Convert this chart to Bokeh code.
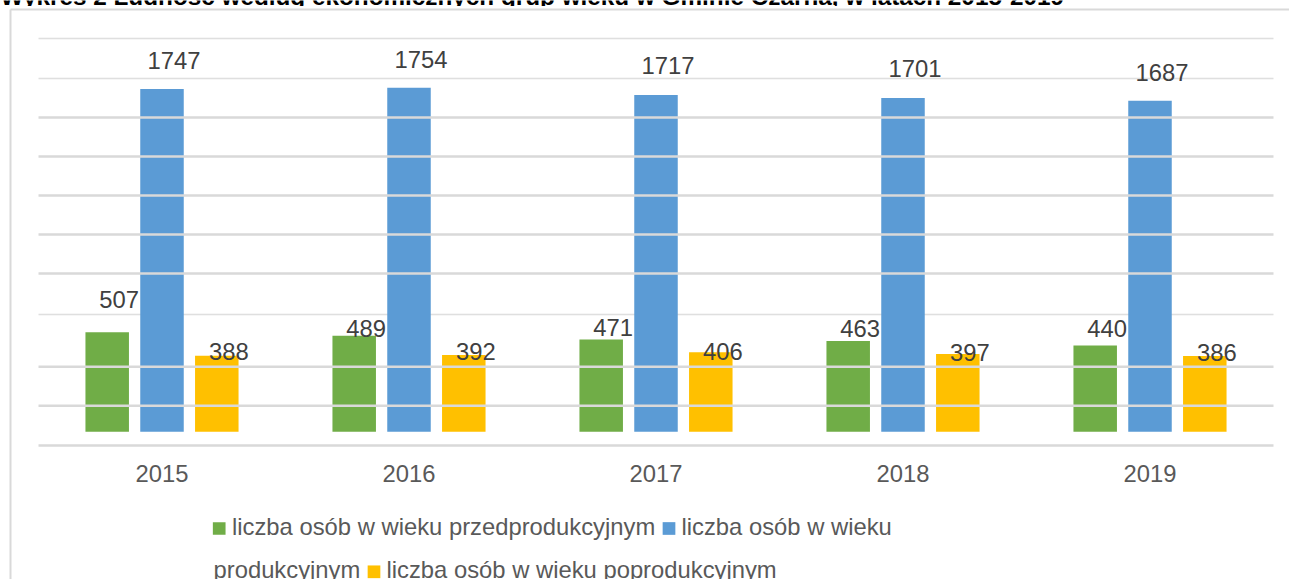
from bokeh.plotting import figure
from bokeh.models import ColumnDataSource, Range1d
from bokeh.transform import dodge
from bokeh.core.properties import value
from bokeh.embed import file_html
from bokeh.resources import INLINE

# ---------------- data ----------------
years = ["2015", "2016", "2017", "2018", "2019"]
pre_prod = [507, 489, 471, 463, 440]          # przedprodukcyjny
prod = [1747, 1754, 1717, 1701, 1687]         # produkcyjny
post_prod = [388, 392, 406, 397, 386]         # poprodukcyjny
series_names = [
    "liczba osób w wieku przedprodukcyjnym",
    "liczba osób w wieku produkcyjnym",
    "liczba osób w wieku poprodukcyjnym",
]
title_text = "Wykres 2 Ludność według ekonomicznych grup wieku w Gminie Czarna, w latach 2015-2019"

# gridline levels (as drawn in the source image)
grid_dark = [1602, 1403, 1204, 1006, 807, 332, 133, -70]
grid_light = [2005, 1801, 598]

# label vertical placement (pixels, relative to bar top; text middle)
dy_pre = [-31.5, -6.4, -10.2, -11.5, -16.0]
dy_prod = [-27.0, -26.5, -28.0, -28.5, -27.0]
dy_post = [-3.2, -1.9, 0.9, -0.4, -2.1]

# ---------------- geometry / styles ----------------
W, H = 1289, 579
LEFT_PX, CAT_PX = 38.0, 247.0     # plot area left edge, category width
BASE_PX, PX_PER_UNIT = 431.3, 0.1962
TSHIFT = 9.7                      # renderer's baseline correction for text (px)

def X(px):
    return (px - LEFT_PX) / CAT_PX

def Y(py):
    return (BASE_PX - py) / PX_PER_UNIT

def YT(py):  # baseline position for a text
    return Y(py - TSHIFT)

FONT = value("Liberation Sans")
FS = "23.8px"
C_GREEN, C_BLUE, C_YELLOW = "#70AD47", "#5B9BD5", "#FFC000"
GRID_C = "#D9D9D9"

p = figure(width=W, height=H, output_backend="svg", toolbar_location=None,
           x_range=Range1d(X(0), X(W)), y_range=Range1d(Y(H), Y(0)),
           x_axis_location=None, y_axis_location=None, min_border=0)
p.styles = {"position": "absolute", "top": "0px", "left": "0px"}
p.outline_line_color = None
p.grid.grid_line_color = None
p.background_fill_color = "white"
p.border_fill_color = "white"

n = len(years)
xc = [i + 0.5 for i in range(n)]
src = ColumnDataSource(dict(xc=xc, years=years, pre=pre_prod, prod=prod, post=post_prod,
                            pre_t=[str(v) for v in pre_prod],
                            prod_t=[str(v) for v in prod],
                            post_t=[str(v) for v in post_prod],
                            pre_dy=[d + 8.4 - TSHIFT for d in dy_pre],
                            prod_dy=[d + 8.4 - TSHIFT for d in dy_prod],
                            post_dy=[d + 8.4 - TSHIFT for d in dy_post]))

# title (partially cut off at the top of the image)
p.text(x=[X(0)], y=[YT(5.2)], text=[title_text], text_font=FONT, text_font_size="24.3px",
       text_font_style="bold", text_color="#000000", text_baseline="alphabetic", text_align="left")
# chart area (white) with its light border
p.quad(left=[X(0)], right=[X(W)], top=[Y(5.5)], bottom=[Y(H)],
       fill_color="white", line_color=None)
p.segment(x0=[X(10)], x1=[X(10)], y0=[Y(9)], y1=[Y(H)], line_color=GRID_C, line_width=2)
p.segment(x0=[X(10)], x1=[X(W)], y0=[Y(9)], y1=[Y(9)], line_color=GRID_C, line_width=2)

# light gridlines (behind the bars)
p.segment(x0=[0] * len(grid_light), x1=[n] * len(grid_light), y0=grid_light, y1=grid_light,
          line_color=GRID_C, line_width=1.5, line_alpha=0.85)

bw = 43.5 / CAT_PX
off = 54.8 / CAT_PX
p.vbar(x=dodge("xc", -off, range=p.x_range), top="pre", bottom=0, width=bw, source=src,
       fill_color=C_GREEN, line_color=None)
p.vbar(x="xc", top="prod", bottom=0, width=bw, source=src, fill_color=C_BLUE, line_color=None)
p.vbar(x=dodge("xc", off, range=p.x_range), top="post", bottom=0, width=bw, source=src,
       fill_color=C_YELLOW, line_color=None)

# dark gridlines (drawn over the bars)
p.segment(x0=[0] * len(grid_dark), x1=[n] * len(grid_dark), y0=grid_dark, y1=grid_dark,
          line_color=GRID_C, line_width=2.5)

# data labels
LBL_C = "#404040"
for col, o in (("pre", -off), ("prod", 0.0), ("post", off)):
    p.text(x=dodge("xc", o, range=p.x_range), y=col, text=col + "_t", source=src,
           x_offset=12, y_offset=col + "_dy", text_font=FONT, text_font_size=FS,
           text_color=LBL_C, text_align="center", text_baseline="alphabetic")

# category labels
p.text(x="xc", y=YT(482.7), text="years", source=src, text_font=FONT, text_font_size=FS,
       text_color="#595959", text_align="center", text_baseline="alphabetic")

# legend (wrapped like the original)
TXT_C = "#595959"
sq = 12.7
p.rect(x=[X(218.7), X(668.5), X(373.5)], y=[Y(528), Y(528), Y(571.3)],
       width=sq, height=sq, width_units="screen", height_units="screen",
       fill_color=[C_GREEN, C_BLUE, C_YELLOW], line_color=None)
leg_words = series_names[1].split(" ")
p.text(x=[X(231.5), X(681), X(213), X(386)],
       y=[YT(535.7), YT(535.7), YT(579.1), YT(579.1)],
       text=[series_names[0], " ".join(leg_words[:-1]), leg_words[-1], series_names[2]],
       text_font=FONT, text_font_size=FS, text_color=TXT_C,
       text_align="left", text_baseline="alphabetic")

open("out.html", "w").write(file_html(p, INLINE))
